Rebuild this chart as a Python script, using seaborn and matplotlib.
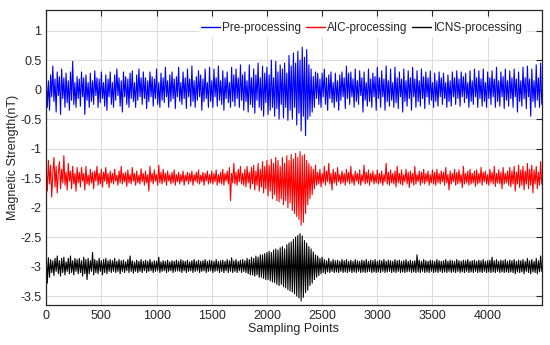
import numpy as np
import pandas as pd
from matplotlib import pyplot as plt
import seaborn as sns

# values, one every 10 sampling points (rows = 300 points)
pre_processing = [
    0.22, -0.3, 0.15, -0.35, 0.25, -0.12, 0.4, -0.2, 0.18, -0.38, 0.3, -0.1, 0.22, -0.42, 0.35, -0.15, 0.2, -0.3, 0.28, -0.22, 0.15, -0.35, 0.3, -0.18, 0.48, -0.25, 0.12, -0.3, 0.22, -0.15,
    0.18, -0.28, 0.3, -0.12, 0.2, -0.42, 0.25, -0.18, 0.12, -0.3, 0.28, -0.2, 0.15, -0.25, 0.32, -0.1, 0.2, -0.3, 0.18, -0.22, 0.3, -0.15, 0.12, -0.28, 0.25, -0.35, 0.18, -0.12, 0.3, -0.25,
    0.12, -0.3, 0.25, -0.18, 0.35, -0.1, 0.2, -0.28, 0.15, -0.38, 0.3, -0.12, 0.22, -0.25, 0.18, -0.3, 0.28, -0.15, 0.32, -0.2, 0.12, -0.3, 0.25, -0.18, 0.35, -0.12, 0.2, -0.25, 0.3, -0.15,
    0.2, -0.32, 0.15, -0.2, 0.3, -0.12, 0.22, -0.28, 0.18, -0.15, 0.35, -0.25, 0.12, -0.3, 0.28, -0.18, 0.2, -0.22, 0.38, -0.12, 0.15, -0.3, 0.25, -0.2, 0.3, -0.15, 0.18, -0.32, 0.22, -0.12,
    0.38, -0.2, 0.12, -0.25, 0.3, -0.15, 0.2, -0.32, 0.35, -0.12, 0.18, -0.28, 0.4, -0.2, 0.15, -0.3, 0.22, -0.18, 0.32, -0.12, 0.25, -0.35, 0.18, -0.2, 0.35, -0.15, 0.12, -0.3, 0.38, -0.2,
    0.15, -0.3, 0.35, -0.12, 0.2, -0.28, 0.4, -0.18, 0.15, -0.25, 0.32, -0.35, 0.2, -0.15, 0.3, -0.22, 0.12, -0.3, 0.38, -0.2, 0.25, -0.28, 0.35, -0.15, 0.2, -0.3, 0.42, -0.18, 0.25, -0.35,
    0.3, -0.2, 0.15, -0.38, 0.42, -0.25, 0.2, -0.3, 0.35, -0.4, 0.25, -0.18, 0.45, -0.3, 0.2, -0.35, 0.4, -0.45, 0.28, -0.22, 0.38, -0.42, 0.25, -0.35, 0.5, -0.3, 0.2, -0.45, 0.48, -0.32,
    0.3, -0.5, 0.42, -0.25, 0.35, -0.48, 0.45, -0.3, 0.28, -0.52, 0.58, -0.35, 0.4, -0.5, 0.62, -0.3, 0.45, -0.6, 0.65, -0.4, 0.5, -0.7, 0.72, -0.45, 0.55, -0.78, 0.68, -0.5, 0.42, -0.45,
    0.35, -0.38, 0.22, -0.3, 0.3, -0.15, 0.28, -0.25, 0.18, -0.3, 0.28, -0.12, 0.35, -0.25, 0.2, -0.35, 0.25, -0.15, 0.3, -0.22, 0.12, -0.3, 0.28, -0.2, 0.15, -0.35, 0.25, -0.18, 0.3, -0.12,
    0.2, -0.32, 0.4, -0.15, 0.28, -0.25, 0.3, -0.12, 0.18, -0.3, 0.35, -0.2, 0.15, -0.25, 0.32, -0.1, 0.2, -0.38, 0.3, -0.18, 0.12, -0.28, 0.35, -0.2, 0.18, -0.3, 0.28, -0.12, 0.22, -0.35,
    0.38, -0.15, 0.2, -0.3, 0.32, -0.12, 0.18, -0.35, 0.4, -0.2, 0.15, -0.28, 0.35, -0.18, 0.12, -0.3, 0.38, -0.22, 0.2, -0.32, 0.3, -0.12, 0.18, -0.38, 0.35, -0.2, 0.15, -0.28, 0.32, -0.15,
    0.2, -0.35, 0.38, -0.12, 0.18, -0.3, 0.32, -0.2, 0.15, -0.28, 0.35, -0.15, 0.22, -0.32, 0.3, -0.12, 0.2, -0.25, 0.32, -0.18, 0.12, -0.3, 0.28, -0.2, 0.15, -0.28, 0.3, -0.12, 0.2, -0.25,
    0.28, -0.15, 0.12, -0.3, 0.25, -0.2, 0.15, -0.28, 0.3, -0.12, 0.2, -0.25, 0.32, -0.15, 0.18, -0.28, 0.3, -0.12, 0.22, -0.22, 0.28, -0.15, 0.12, -0.3, 0.32, -0.2, 0.15, -0.25, 0.35, -0.12,
    0.2, -0.3, 0.32, -0.15, 0.18, -0.28, 0.35, -0.2, 0.12, -0.3, 0.3, -0.15, 0.2, -0.25, 0.32, -0.12, 0.18, -0.3, 0.38, -0.2, 0.15, -0.28, 0.3, -0.12, 0.22, -0.32, 0.35, -0.18, 0.15, -0.28,
    0.32, -0.15, 0.2, -0.3, 0.35, -0.12, 0.18, -0.38, 0.3, -0.2, 0.15, -0.28, 0.38, -0.15, 0.2, -0.32, 0.4, -0.12, 0.18, -0.45, 0.35, -0.2, 0.15, -0.3, 0.42, -0.18, 0.2, -0.3, 0.45, -0.25,
]

aic_processing = [
    -1.35, -1.72, -1.2, -1.6, -1.28, -1.82, -1.42, -1.15, -1.65, -1.3, -1.75, -1.4, -1.22, -1.68, -1.35, -1.58, -1.12, -1.62, -1.4, -1.7, -1.25, -1.55, -1.38, -1.68, -1.3, -1.6, -1.42, -1.72, -1.32, -1.58,
    -1.4, -1.65, -1.32, -1.55, -1.42, -1.7, -1.3, -1.6, -1.45, -1.62, -1.35, -1.58, -1.4, -1.68, -1.38, -1.55, -1.3, -1.62, -1.42, -1.6, -1.35, -1.65, -1.4, -1.55, -1.32, -1.6, -1.42, -1.66, -1.38, -1.58,
    -1.42, -1.6, -1.35, -1.55, -1.45, -1.62, -1.38, -1.58, -1.3, -1.6, -1.42, -1.56, -1.4, -1.64, -1.36, -1.58, -1.44, -1.6, -1.32, -1.55, -1.42, -1.62, -1.38, -1.58, -1.45, -1.6, -1.34, -1.56, -1.42, -1.62,
    -1.38, -1.58, -1.44, -1.72, -1.3, -1.56, -1.42, -1.6, -1.36, -1.55, -1.44, -1.62, -1.28, -1.58, -1.4, -1.6, -1.35, -1.56, -1.42, -1.62, -1.38, -1.55, -1.44, -1.6, -1.4, -1.58, -1.36, -1.62, -1.44, -1.56,
    -1.4, -1.6, -1.44, -1.56, -1.38, -1.62, -1.45, -1.55, -1.4, -1.6, -1.42, -1.56, -1.38, -1.62, -1.44, -1.55, -1.4, -1.58, -1.36, -1.6, -1.45, -1.56, -1.4, -1.62, -1.42, -1.55, -1.38, -1.6, -1.44, -1.58,
    -1.38, -1.6, -1.42, -1.56, -1.36, -1.62, -1.44, -1.58, -1.4, -1.6, -1.35, -1.62, -1.42, -1.55, -1.38, -1.6, -1.32, -1.88, -1.42, -1.58, -1.25, -1.6, -1.4, -1.62, -1.35, -1.56, -1.3, -1.6, -1.42, -1.62,
    -1.35, -1.65, -1.3, -1.58, -1.4, -1.68, -1.32, -1.6, -1.28, -1.7, -1.38, -1.62, -1.25, -1.72, -1.35, -1.65, -1.22, -1.75, -1.3, -1.68, -1.2, -1.8, -1.28, -1.72, -1.18, -1.85, -1.25, -1.78, -1.15, -1.88,
    -1.2, -1.9, -1.3, -1.85, -1.15, -1.95, -1.25, -1.88, -1.12, -2.0, -1.2, -1.92, -1.1, -2.05, -1.18, -2.1, -1.08, -2.15, -1.15, -2.2, -1.05, -2.3, -1.12, -2.25, -1.1, -2.1, -1.2, -1.95, -1.25, -1.85,
    -1.3, -1.78, -1.35, -1.68, -1.28, -1.62, -1.4, -1.6, -1.35, -1.65, -1.42, -1.58, -1.3, -1.62, -1.38, -1.56, -1.25, -1.6, -1.42, -1.7, -1.35, -1.58, -1.4, -1.62, -1.32, -1.56, -1.44, -1.6, -1.38, -1.58,
    -1.42, -1.62, -1.35, -1.56, -1.4, -1.6, -1.3, -1.58, -1.44, -1.62, -1.38, -1.55, -1.42, -1.6, -1.36, -1.62, -1.44, -1.56, -1.28, -1.6, -1.4, -1.58, -1.36, -1.62, -1.42, -1.56, -1.38, -1.6, -1.44, -1.58,
    -1.36, -1.6, -1.42, -1.58, -1.38, -1.62, -1.44, -1.56, -1.25, -1.6, -1.4, -1.62, -1.36, -1.58, -1.42, -1.6, -1.38, -1.65, -1.3, -1.58, -1.42, -1.6, -1.36, -1.62, -1.44, -1.56, -1.35, -1.6, -1.4, -1.66,
    -1.38, -1.58, -1.42, -1.62, -1.3, -1.6, -1.44, -1.56, -1.38, -1.62, -1.4, -1.58, -1.35, -1.6, -1.42, -1.56, -1.38, -1.62, -1.44, -1.58, -1.36, -1.6, -1.4, -1.62, -1.35, -1.58, -1.42, -1.6, -1.38, -1.56,
    -1.4, -1.62, -1.32, -1.58, -1.44, -1.7, -1.38, -1.6, -1.42, -1.56, -1.35, -1.62, -1.4, -1.6, -1.36, -1.58, -1.44, -1.66, -1.3, -1.6, -1.42, -1.58, -1.38, -1.62, -1.35, -1.6, -1.42, -1.58, -1.38, -1.64,
    -1.36, -1.6, -1.42, -1.58, -1.32, -1.62, -1.4, -1.56, -1.38, -1.6, -1.44, -1.62, -1.35, -1.58, -1.4, -1.6, -1.3, -1.64, -1.42, -1.58, -1.36, -1.6, -1.4, -1.68, -1.32, -1.6, -1.42, -1.58, -1.38, -1.62,
    -1.32, -1.65, -1.38, -1.6, -1.3, -1.72, -1.4, -1.6, -1.28, -1.66, -1.36, -1.62, -1.3, -1.7, -1.38, -1.6, -1.25, -1.68, -1.35, -1.62, -1.28, -1.75, -1.36, -1.6, -1.3, -1.68, -1.4, -1.62, -1.22, -1.6,
]

icns_processing = [
    -2.78, -3.28, -2.85, -3.18, -2.88, -3.1, -2.9, -3.15, -2.86, -3.08, -2.82, -3.12, -2.9, -3.16, -2.86, -3.1, -2.84, -3.14, -2.92, -3.08, -2.86, -3.12, -2.82, -3.1, -2.9, -3.14, -2.86, -3.08, -2.88, -3.12,
    -2.86, -3.1, -2.9, -3.16, -2.84, -3.12, -2.88, -3.22, -2.86, -3.12, -2.9, -3.08, -2.76, -3.14, -2.88, -3.1, -2.9, -3.12, -2.86, -3.08, -2.9, -3.14, -2.88, -3.1, -2.86, -3.12, -2.9, -3.08, -2.88, -3.1,
    -2.9, -3.08, -2.86, -3.1, -2.91, -3.08, -2.88, -3.12, -2.9, -3.08, -2.89, -3.1, -2.92, -3.07, -2.88, -3.1, -2.82, -3.08, -2.9, -3.11, -2.92, -3.08, -2.89, -3.1, -2.91, -3.08, -2.88, -3.1, -2.91, -3.07,
    -2.89, -3.1, -2.91, -3.08, -2.88, -3.07, -2.92, -3.1, -2.9, -3.08, -2.91, -3.07, -2.84, -3.1, -2.92, -3.08, -2.9, -3.07, -2.91, -3.1, -2.89, -3.08, -2.92, -3.07, -2.9, -3.1, -2.91, -3.08, -2.89, -3.07,
    -2.91, -3.08, -2.88, -3.1, -2.9, -3.07, -2.91, -3.1, -2.89, -3.08, -2.92, -3.07, -2.9, -3.1, -2.88, -3.08, -2.91, -3.07, -2.89, -3.1, -2.91, -3.08, -2.9, -3.07, -2.88, -3.1, -2.91, -3.08, -2.89, -3.07,
    -2.9, -3.1, -2.91, -3.08, -2.88, -3.07, -2.91, -3.1, -2.9, -3.08, -2.89, -3.1, -2.91, -3.07, -2.88, -3.1, -2.9, -3.08, -2.85, -3.1, -2.9, -3.08, -2.88, -3.1, -2.91, -3.07, -2.89, -3.1, -2.88, -3.08,
    -2.9, -3.1, -2.86, -3.12, -2.88, -3.14, -2.84, -3.14, -2.86, -3.16, -2.82, -3.14, -2.84, -3.18, -2.8, -3.18, -2.8, -3.2, -2.78, -3.22, -2.76, -3.22, -2.74, -3.24, -2.76, -3.26, -2.72, -3.27, -2.7, -3.3,
    -2.72, -3.32, -2.68, -3.3, -2.66, -3.34, -2.7, -3.36, -2.63, -3.39, -2.6, -3.41, -2.58, -3.43, -2.54, -3.46, -2.5, -3.5, -2.47, -3.53, -2.44, -3.58, -2.48, -3.52, -2.56, -3.44, -2.6, -3.4, -2.66, -3.32,
    -2.7, -3.28, -2.75, -3.22, -2.8, -3.18, -2.82, -3.15, -2.86, -3.12, -2.84, -3.1, -2.88, -3.12, -2.9, -3.09, -2.86, -3.1, -2.91, -3.08, -2.88, -3.1, -2.9, -3.09, -2.89, -3.1, -2.91, -3.08, -2.88, -3.1,
    -2.9, -3.09, -2.88, -3.1, -2.91, -3.08, -2.89, -3.1, -2.91, -3.09, -2.88, -3.1, -2.9, -3.08, -2.91, -3.1, -2.89, -3.09, -2.9, -3.1, -2.88, -3.09, -2.91, -3.08, -2.89, -3.1, -2.9, -3.09, -2.88, -3.1,
    -2.91, -3.09, -2.89, -3.1, -2.9, -3.08, -2.88, -3.1, -2.91, -3.09, -2.89, -3.08, -2.9, -3.1, -2.91, -3.09, -2.88, -3.1, -2.9, -3.08, -2.89, -3.1, -2.91, -3.09, -2.9, -3.1, -2.88, -3.09, -2.91, -3.08,
    -2.89, -3.1, -2.91, -3.09, -2.9, -3.1, -2.8, -3.09, -2.89, -3.1, -2.91, -3.08, -2.88, -3.1, -2.9, -3.09, -2.91, -3.1, -2.89, -3.08, -2.9, -3.1, -2.91, -3.09, -2.88, -3.1, -2.9, -3.08, -2.91, -3.1,
    -2.9, -3.09, -2.88, -3.1, -2.91, -3.08, -2.89, -3.1, -2.9, -3.09, -2.91, -3.1, -2.88, -3.08, -2.9, -3.1, -2.91, -3.09, -2.89, -3.1, -2.9, -3.08, -2.88, -3.1, -2.91, -3.09, -2.9, -3.1, -2.89, -3.08,
    -2.91, -3.1, -2.89, -3.09, -2.9, -3.1, -2.88, -3.08, -2.91, -3.1, -2.9, -3.09, -2.89, -3.1, -2.84, -3.09, -2.9, -3.1, -2.88, -3.08, -2.91, -3.1, -2.89, -3.09, -2.9, -3.1, -2.88, -3.09, -2.91, -3.1,
    -2.89, -3.09, -2.9, -3.1, -2.88, -3.12, -2.91, -3.09, -2.89, -3.1, -2.9, -3.09, -2.88, -3.12, -2.91, -3.08, -2.86, -3.1, -2.9, -3.12, -2.88, -3.09, -2.91, -3.1, -2.86, -3.12, -2.9, -3.09, -2.82, -3.08,
]

series_names = ['Pre-processing', 'AIC-processing', 'ICNS-processing']
series_colors = ['#0000ff', '#ff0000', '#000000']
step = 10  # sampling points between read-off values

# long-form table for seaborn
df = pd.concat([
    pd.DataFrame({'sample': np.arange(len(vals)) * step, 'value': vals, 'signal': name})
    for name, vals in zip(series_names, [pre_processing, aic_processing, icns_processing])
])

sns.set_style('white')
plt.rcParams['font.family'] = ['Liberation Sans', 'DejaVu Sans']
plt.rcParams['axes.unicode_minus'] = False

fig = plt.figure(figsize=(5.5, 3.45), dpi=100)
ax = fig.add_axes([0.084, 0.116, 0.901, 0.855])

sns.lineplot(data=df, x='sample', y='value', hue='signal', hue_order=series_names,
             palette=dict(zip(series_names, series_colors)), linewidth=0.8,
             estimator=None, sort=False, ax=ax)

ax.set_xlim(0, 4490)
ax.set_ylim(-3.65, 1.35)
ax.set_xticks(np.arange(0, 4001, 500))
yt = np.arange(-3.5, 1.01, 0.5)
ax.set_yticks(yt)
ax.set_yticklabels([f'{v:g}' for v in yt])

ax.grid(True, color='#dcdcdc', linewidth=0.8)
ax.set_axisbelow(True)
ax.tick_params(direction='in', top=True, right=True, length=4, labelsize=9,
               colors='#262626', width=0.8)
for sp in ax.spines.values():
    sp.set_color('#262626')
    sp.set_linewidth(0.9)

ax.set_xlabel('Sampling Points', fontsize=9, labelpad=1)
ax.set_ylabel('Magnetic Strength(nT)', fontsize=9, labelpad=1)

leg = ax.legend(ncol=3, loc='upper right', fontsize=8.5, frameon=True, fancybox=False,
                handlelength=1.6, handletextpad=0.2, columnspacing=0.4,
                borderaxespad=0.8, borderpad=0.2, bbox_to_anchor=(0.985, 1.0))
leg.get_frame().set_edgecolor('white')
leg.get_frame().set_facecolor('white')
leg.get_frame().set_alpha(1)
for line in leg.get_lines():
    line.set_linewidth(1.0)

fig.savefig('out.png', dpi=100)
